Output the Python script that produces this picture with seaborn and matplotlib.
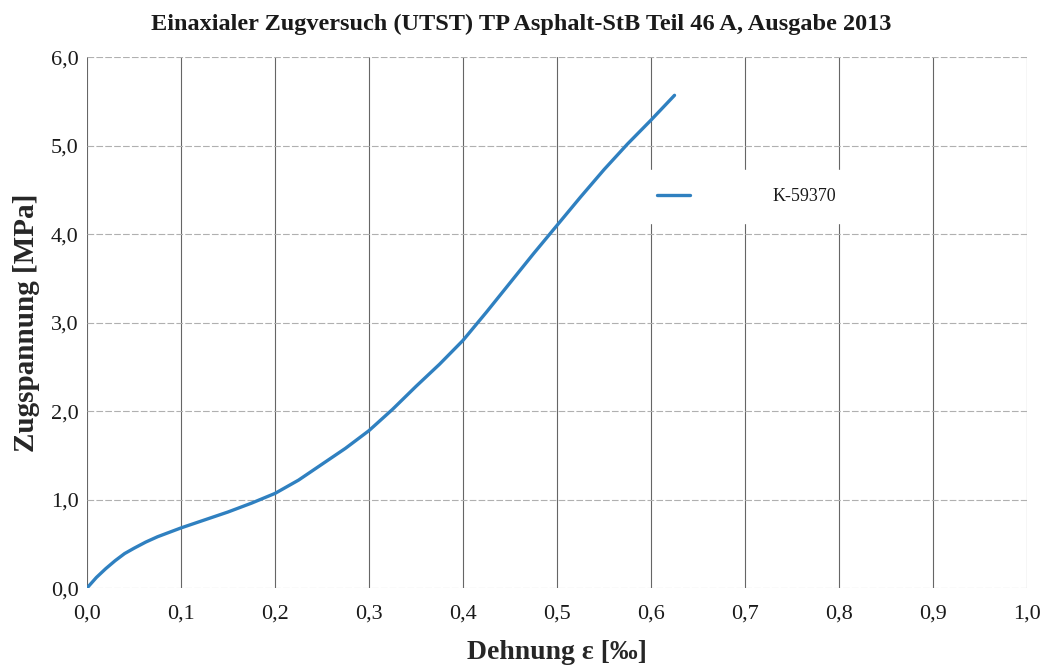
import matplotlib
matplotlib.use("Agg")
import matplotlib.pyplot as plt
import seaborn as sns
import pandas as pd
from matplotlib.ticker import FuncFormatter

dehnung = [0.0, 0.005, 0.01, 0.02, 0.03, 0.04, 0.05, 0.0625, 0.075, 0.0875,
           0.1, 0.125, 0.15, 0.175, 0.2, 0.225, 0.25, 0.275, 0.3, 0.325,
           0.35, 0.375, 0.4, 0.425, 0.45, 0.475, 0.5, 0.525, 0.55, 0.575,
           0.6, 0.625]
spannung = [0.0, 0.06, 0.12, 0.22, 0.31, 0.39, 0.45, 0.52, 0.58, 0.63,
            0.68, 0.77, 0.86, 0.96, 1.07, 1.22, 1.40, 1.58, 1.78, 2.02,
            2.28, 2.53, 2.80, 3.12, 3.45, 3.78, 4.10, 4.42, 4.73, 5.02,
            5.29, 5.57]
probe = "K-59370"

df = pd.DataFrame({"Dehnung": dehnung, "Spannung": spannung, "Probe": probe})

sns.set_style("white")
plt.rcParams["font.family"] = ["Liberation Serif", "DejaVu Serif"]
plt.rcParams["text.color"] = "#1a1a1a"

fig = plt.figure(figsize=(10.48, 6.66), dpi=100)
ax = fig.add_axes([0.083, 0.117, 0.897, 0.797])

sns.lineplot(data=df, x="Dehnung", y="Spannung", hue="Probe",
             palette=["#2f80c0"], linewidth=2.4, ax=ax)

ax.set_xlim(0, 1.0)
ax.set_ylim(0, 6.0)
ax.set_xticks([i / 10 for i in range(11)])
ax.set_yticks(range(7))
komma = FuncFormatter(lambda v, p: f"{v:.1f}".replace(".", ","))
ax.xaxis.set_major_formatter(komma)
ax.yaxis.set_major_formatter(komma)
ax.tick_params(labelsize=16, length=5, color="#666666", direction="inout",
               labelcolor="#1a1a1a")
ax.tick_params(axis="x", pad=9)

ax.grid(axis="x", color="#666666", linewidth=0.8)
ax.grid(axis="y", color="#b0b0b0", linewidth=0.8, linestyle=(0, (6, 2)))
for s in ax.spines.values():
    s.set_visible(False)

ax.set_xlabel("Dehnung ε [‰]", fontsize=20, fontweight="bold", labelpad=12)
ax.set_ylabel("Zugspannung [MPa]", fontsize=21, fontweight="bold", labelpad=8)
fig.suptitle("Einaxialer Zugversuch (UTST) TP Asphalt-StB Teil 46 A, Ausgabe 2013",
             fontsize=17.5, fontweight="bold", x=0.497, y=0.979)

leg = ax.legend(loc="upper left", bbox_to_anchor=(0.578, 0.805), frameon=True,
                fontsize=13, handlelength=1.8, handletextpad=4.6,
                borderpad=1.0, title=None)
leg.get_frame().set_facecolor("white")
leg.get_frame().set_edgecolor("white")
leg.get_frame().set_alpha(1)

fig.savefig("out.png", dpi=100)
